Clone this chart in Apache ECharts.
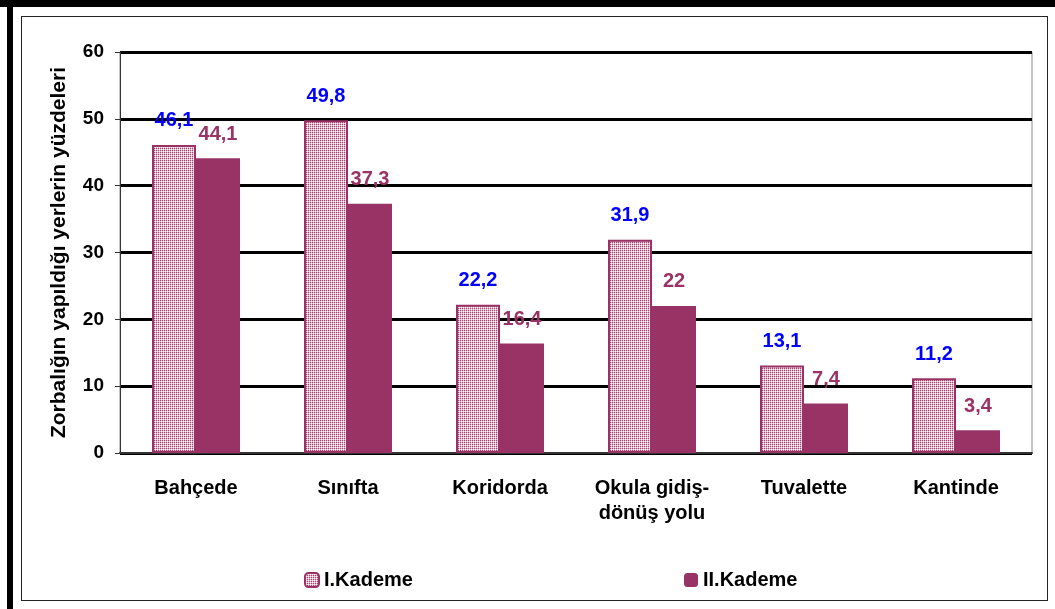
<!DOCTYPE html>
<html>
<head>
<meta charset="utf-8">
<script src="https://cdn.jsdelivr.net/npm/echarts@6/dist/echarts.min.js"></script>
<style>
  html, body { margin: 0; padding: 0; background: #fff; }
  .frame { position: relative; width: 1055px; height: 609px; overflow: hidden; }
  .band-top { position: absolute; left: 0; top: 0; width: 1055px; height: 7px; background: #000; }
  .band-left { position: absolute; left: 7px; top: 0; width: 6px; height: 609px; background: #000; }
  .inner { position: absolute; left: 21px; top: 16px; width: 1025px; height: 583px; border: 1px solid #222; box-sizing: content-box; }
  #chart { position: absolute; left: 0; top: 0; width: 1055px; height: 609px; }
</style>
</head>
<body>
<div class="frame">
  <div class="band-top"></div>
  <div class="band-left"></div>
  <div class="inner"></div>
  <div id="chart"></div>
</div>
<script>
// yerler
const categories = ['Bahçede', 'Sınıfta', 'Koridorda', 'Okula gidiş-\ndönüş yolu', 'Tuvalette', 'Kantinde'];
// I.Kademe yüzdeleri
const kademe1 = [46.1, 49.8, 22.2, 31.9, 13.1, 11.2];
// II.Kademe yüzdeleri
const kademe2 = [44.1, 37.3, 16.4, 22, 7.4, 3.4];
const yTicks = { min: 0, max: 60, interval: 10 };

// taralı desen (I.Kademe)
function makePattern() {
  const c = document.createElement('canvas');
  c.width = 2; c.height = 2;
  const ctx = c.getContext('2d');
  ctx.fillStyle = '#e3b8cc'; ctx.fillRect(0, 0, 2, 2);
  ctx.fillStyle = '#a3416f'; ctx.fillRect(0, 0, 1, 1);
  ctx.fillStyle = '#ffffff'; ctx.fillRect(1, 1, 1, 1);
  return c;
}

const chart = echarts.init(document.getElementById('chart'));
const fmt = p => String(p.value).replace('.', ',');
const font = 'Liberation Sans, Arial, sans-serif';

const option = {
  animation: false,
  textStyle: { fontFamily: font },
  grid: { left: 120, right: 23, top: 52, bottom: 156, show: true, borderColor: '#8c8c8c', borderWidth: 1 },
  legend: [
    { data: ['I.Kademe'], left: 299, top: 565, itemWidth: 14, itemHeight: 14, itemGap: 0,
      textStyle: { fontSize: 20, fontWeight: 'bold', color: '#000', fontFamily: font } },
    { data: ['II.Kademe'], left: 679, top: 565, itemWidth: 14, itemHeight: 14, itemGap: 0,
      textStyle: { fontSize: 20, fontWeight: 'bold', color: '#000', fontFamily: font } }
  ],
  xAxis: {
    type: 'category',
    data: categories,
    axisLine: { lineStyle: { color: '#333', width: 2 } },
    axisTick: { show: false },
    axisLabel: { fontSize: 20, fontWeight: 'bold', color: '#000', margin: 23, lineHeight: 25, interval: 0 }
  },
  yAxis: {
    type: 'value',
    min: yTicks.min, max: yTicks.max, interval: yTicks.interval,
    name: 'Zorbalığın yapıldığı yerlerin yüzdeleri',
    nameLocation: 'middle',
    nameGap: 50,
    nameTextStyle: { fontSize: 21, fontWeight: 'bold', color: '#000' },
    axisLine: { show: true, lineStyle: { color: '#333', width: 1 } },
    axisTick: { show: true, length: 5, lineStyle: { color: '#333' } },
    axisLabel: { fontSize: 19, fontWeight: 'bold', color: '#000', margin: 16 },
    splitLine: { lineStyle: { color: '#000', width: 3 } }
  },
  series: [
    {
      name: 'I.Kademe',
      type: 'bar',
      data: kademe1,
      barWidth: 44,
      barGap: '0%',
      itemStyle: { color: { image: makePattern(), repeat: 'repeat' }, borderColor: '#993366', borderWidth: 2 },
      label: { show: true, position: 'top', distance: 14, formatter: fmt, fontSize: 20, fontWeight: 'bold', color: '#0000ff' }
    },
    {
      name: 'II.Kademe',
      type: 'bar',
      data: kademe2,
      barWidth: 44,
      itemStyle: { color: '#993366' },
      label: { show: true, position: 'top', distance: 14, formatter: fmt, fontSize: 20, fontWeight: 'bold', color: '#993366' }
    }
  ]
};
chart.setOption(option);
</script>
</body>
</html>
